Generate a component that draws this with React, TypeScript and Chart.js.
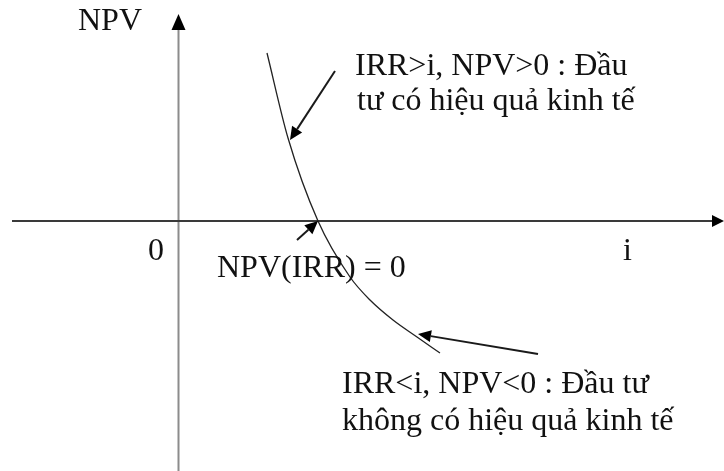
import React, { useEffect, useRef } from "react";
import { Chart, registerables } from "chart.js";

Chart.register(...registerables);

// NPV profile: discount rate i (x) against net present value (y)
const rates = [8.9, 11.0, 14.0, 17.2, 19.2, 21.5, 23.9, 26.2];
const npvValues = [16.8, 8.3, 0, -5.6, -7.9, -9.9, -11.6, -13.2];

// Axis extents (data units)
const xRange = [-17.8, 54.6];
const yRange = [-25.0, 22.1];
const xAxisSpan = [-16.6, 54.6];
const yAxisSpan = [-25.0, 20.7];

// Callout arrows: [tailX, tailY, tipX, tipY]
const calloutArrows = [
  [15.7, 15.0, 11.2, 8.1],
  [11.9, -1.9, 14.0, 0],
  [36.0, -13.3, 24.0, -11.3],
];

// Text labels: [text, x, y] (left edge, baseline)
const labelTexts = [
  "NPV",
  "IRR>i, NPV>0 : Đầu",
  "tư có hiệu quả kinh tế",
  "0",
  "NPV(IRR) = 0",
  "i",
  "IRR<i, NPV<0 : Đầu tư",
  "không có hiệu quả kinh tế",
];
const labelX = [-10.0, 17.7, 17.9, -3.0, 3.9, 44.5, 16.4, 16.4];
const labelY = [19.1, 14.6, 11.1, -3.9, -5.6, -3.9, -17.2, -20.9];

function drawArrow(
  ctx: CanvasRenderingContext2D,
  x1: number,
  y1: number,
  x2: number,
  y2: number,
  color: string,
  width: number,
  headColor: string,
  headLen: number,
  headHalf: number
) {
  const ang = Math.atan2(y2 - y1, x2 - x1);
  const bx = x2 - Math.cos(ang) * headLen;
  const by = y2 - Math.sin(ang) * headLen;
  ctx.save();
  ctx.strokeStyle = color;
  ctx.lineWidth = width;
  ctx.beginPath();
  ctx.moveTo(x1, y1);
  ctx.lineTo(bx, by);
  ctx.stroke();
  ctx.fillStyle = headColor;
  ctx.beginPath();
  ctx.moveTo(x2, y2);
  ctx.lineTo(bx - Math.sin(ang) * headHalf, by + Math.cos(ang) * headHalf);
  ctx.lineTo(bx + Math.sin(ang) * headHalf, by - Math.cos(ang) * headHalf);
  ctx.closePath();
  ctx.fill();
  ctx.restore();
}

const diagramPlugin = {
  id: "npvDiagram",
  beforeDatasetsDraw(chart: any) {
    const { ctx, scales } = chart;
    const xs = scales.x;
    const ys = scales.y;
    // vertical NPV axis
    drawArrow(
      ctx,
      xs.getPixelForValue(0) + 0.5,
      ys.getPixelForValue(yAxisSpan[0]),
      xs.getPixelForValue(0) + 0.5,
      ys.getPixelForValue(yAxisSpan[1]),
      "#8c8c8c",
      2,
      "#000",
      16,
      7
    );
    // horizontal i axis
    drawArrow(
      ctx,
      xs.getPixelForValue(xAxisSpan[0]),
      ys.getPixelForValue(0),
      xs.getPixelForValue(xAxisSpan[1]),
      ys.getPixelForValue(0),
      "#3a3a3a",
      2,
      "#000",
      12,
      6
    );
  },
  afterDatasetsDraw(chart: any) {
    const { ctx, scales } = chart;
    const xs = scales.x;
    const ys = scales.y;
    calloutArrows.forEach(([tx, ty, hx, hy]) => {
      drawArrow(
        ctx,
        xs.getPixelForValue(tx),
        ys.getPixelForValue(ty),
        xs.getPixelForValue(hx),
        ys.getPixelForValue(hy),
        "#1a1a1a",
        2,
        "#000",
        13,
        6
      );
    });
    ctx.save();
    ctx.fillStyle = "#111";
    ctx.font = '32px "Liberation Serif", "Times New Roman", serif';
    ctx.textAlign = "left";
    ctx.textBaseline = "alphabetic";
    labelTexts.forEach((t, k) => {
      ctx.fillText(t, xs.getPixelForValue(labelX[k]), ys.getPixelForValue(labelY[k]));
    });
    ctx.restore();
  },
};

export default function App() {
  const canvasRef = useRef<HTMLCanvasElement | null>(null);

  useEffect(() => {
    document.body.style.margin = "0";
    const canvas = canvasRef.current;
    if (!canvas) return;
    const chart = new Chart(canvas, {
      type: "line",
      data: {
        datasets: [
          {
            data: rates.map((r, k) => ({ x: r, y: npvValues[k] })),
            borderColor: "#222",
            borderWidth: 1.3,
            pointRadius: 0,
            cubicInterpolationMode: "monotone",
            fill: false,
          },
        ],
      },
      options: {
        animation: false,
        responsive: false,
        devicePixelRatio: 1,
        layout: { padding: 0 },
        plugins: { legend: { display: false }, tooltip: { enabled: false } },
        scales: {
          x: { type: "linear", min: xRange[0], max: xRange[1], display: false },
          y: { type: "linear", min: yRange[0], max: yRange[1], display: false },
        },
      },
      plugins: [diagramPlugin],
    });
    return () => chart.destroy();
  }, []);

  return (
    <div style={{ position: "absolute", left: 0, top: 0, width: 724, height: 471, background: "#fff" }}>
      <canvas ref={canvasRef} width={724} height={471} />
    </div>
  );
}
